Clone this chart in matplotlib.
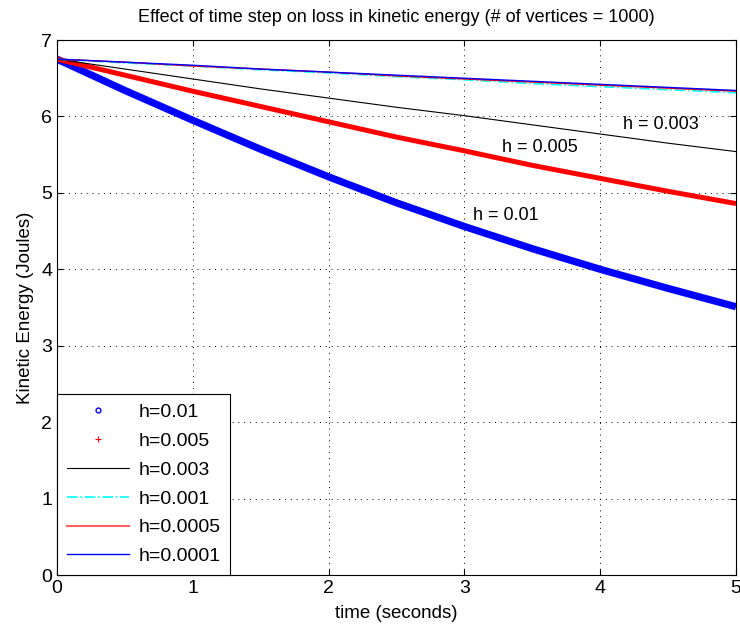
import numpy as np
import matplotlib.pyplot as plt
from matplotlib.lines import Line2D

plt.rcParams['font.family'] = ['Liberation Sans', 'DejaVu Sans']

# co 0.5 s
t = [0, 0.5, 1, 1.5, 2, 2.5, 3, 3.5, 4, 4.5, 5]
ke_h01 = [6.75, 6.34, 5.95, 5.57, 5.21, 4.87, 4.56, 4.27, 4.00, 3.75, 3.51]
ke_h005 = [6.75, 6.54, 6.33, 6.13, 5.93, 5.73, 5.55, 5.36, 5.19, 5.02, 4.86]
ke_h003 = [6.75, 6.62, 6.49, 6.36, 6.24, 6.12, 6.01, 5.89, 5.77, 5.65, 5.54]
ke_h001 = [6.75, 6.70, 6.66, 6.61, 6.57, 6.52, 6.48, 6.43, 6.39, 6.35, 6.31]
ke_h0005 = [6.75, 6.71, 6.66, 6.62, 6.58, 6.53, 6.49, 6.45, 6.41, 6.37, 6.33]
ke_h0001 = [6.75, 6.71, 6.67, 6.62, 6.58, 6.54, 6.50, 6.46, 6.42, 6.38, 6.34]

etykiety = ['h=0.01', 'h=0.005', 'h=0.003', 'h=0.001', 'h=0.0005', 'h=0.0001']

fig = plt.figure(figsize=(7.4, 6.33), dpi=100)
ax = fig.add_axes([0.077, 0.0916, 0.9176, 0.8452])

ax.plot(t, ke_h01, color='blue', lw=5.2, solid_capstyle='butt')
ax.plot(t, ke_h005, color='red', lw=3.6, solid_capstyle='butt')
ax.plot(t, ke_h003, color='black', lw=0.8)
ax.plot(t, ke_h001, color='cyan', lw=1.2, ls='-.')
ax.plot(t, ke_h0005, color='red', lw=1.0)
ax.plot(t, ke_h0001, color='blue', lw=1.0)

ax.text(3.06, 4.71, 'h = 0.01', fontsize=13, va='center')
ax.text(3.28, 5.59, 'h = 0.005', fontsize=13, va='center')
ax.text(4.17, 5.9, 'h = 0.003', fontsize=13, va='center')

ax.set_xlim(0, 5)
ax.set_ylim(0, 7)
ax.set_xticks(range(6))
ax.set_yticks(range(8))
ax.tick_params(direction='in', top=True, right=True, labelsize=14, length=4)
ax.grid(True, color='black', ls=(0, (1, 5)), lw=0.7)
ax.set_xlabel('time (seconds)', fontsize=13.5, labelpad=6)
ax.set_ylabel('Kinetic Energy (Joules)', fontsize=13.5, labelpad=5)
ax.set_title('Effect of time step on loss in kinetic energy (# of vertices = 1000)',
             fontsize=13, pad=13)

uchwyty = [
    Line2D([], [], color='blue', marker='o', ls='none', ms=3.5, mfc='none', mew=1),
    Line2D([], [], color='red', marker='+', ls='none', ms=4, mew=0.8),
    Line2D([], [], color='black', lw=0.8),
    Line2D([], [], color='cyan', lw=1.2, ls='-.'),
    Line2D([], [], color='#ff6060', lw=1.5),
    Line2D([], [], color='blue', lw=1.0),
]
leg = ax.legend(uchwyty, etykiety, loc='lower left', fontsize=14, fancybox=False,
                edgecolor='black', framealpha=1, borderaxespad=0, handlelength=3.2,
                handletextpad=0.5, labelspacing=0.58, borderpad=0.5)
leg.get_frame().set_linewidth(0.8)

fig.savefig('out.png', dpi=100)
